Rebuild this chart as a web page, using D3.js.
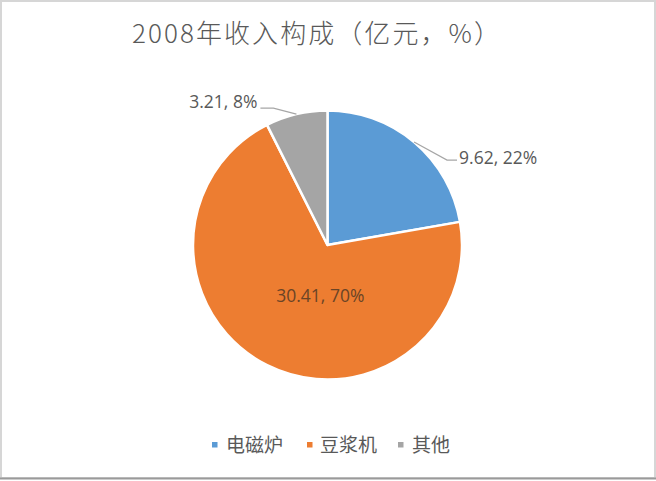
<!DOCTYPE html>
<html>
<head>
<meta charset="utf-8">
<script src="https://cdn.jsdelivr.net/npm/d3@7"></script>
<style>
  html, body { margin: 0; padding: 0; background: #ffffff; }
  svg { display: block; }
</style>
</head>
<body>
<svg id="chart" width="656" height="481"></svg>
<script>
const titleText = "2008年收入构成（亿元，%）";
const categories = ["电磁炉", "豆浆机", "其他"];
const values = [9.62, 30.41, 3.21];
const percentLabels = ["22%", "70%", "8%"];
const colors = ["#5B9BD5", "#ED7D31", "#A5A5A5"];

const W = 656, H = 481;
const svg = d3.select("#chart");

// frame
svg.append("rect").attr("x", 1).attr("y", 1).attr("width", W - 2).attr("height", H - 4)
  .attr("fill", "#ffffff").attr("stroke", "#d6d6d6").attr("stroke-width", 2);
svg.append("line").attr("x1", 0).attr("x2", W).attr("y1", 478.5).attr("y2", 478.5)
  .attr("stroke", "#9a9a9a").attr("stroke-width", 2);

// title
svg.append("text")
  .attr("x", 132).attr("y", 43)
  .attr("textLength", 368).attr("lengthAdjust", "spacing")
  .attr("font-family", "'Noto Sans CJK SC', 'Noto Sans', sans-serif")
  .attr("font-size", 26)
  .attr("font-weight", 300)
  .attr("fill", "#595959")
  .text(titleText);

const cx = 327.5, cy = 245, r = 134.5;
const g = svg.append("g").attr("transform", `translate(${cx},${cy})`);

const pie = d3.pie().sort(null).value(d => d).startAngle(0).endAngle(2 * Math.PI);
const arcs = pie(values);
const arc = d3.arc().innerRadius(0).outerRadius(r);

g.selectAll("path.slice").data(arcs).enter().append("path")
  .attr("class", "slice")
  .attr("d", arc)
  .attr("fill", (d, i) => colors[i])
  .attr("stroke", "#ffffff")
  .attr("stroke-width", 2.5)
  .attr("stroke-linejoin", "round");

const labelFont = "'Open Sans', 'Liberation Sans', sans-serif";
const labelSize = 17.5;
const fmt = (i) => `${values[i].toFixed(2)}, ${percentLabels[i]}`;

function edgePoint(d) {
  const a = (d.startAngle + d.endAngle) / 2;
  return [r * Math.sin(a), -r * Math.cos(a)];
}

// outside labels: blue (index 0) and gray (index 2)
const outside = [
  { i: 0, elbow: [33, 18], run: 10, anchor: "start", gap: 2, dy: 4 },
  { i: 2, elbow: [-23, -6], run: -13, anchor: "end", gap: -3, dy: 0 }
];
outside.forEach(o => {
  const d = arcs[o.i];
  const p0 = edgePoint(d);
  const p1 = [p0[0] + o.elbow[0], p0[1] + o.elbow[1]];
  const p2 = [p1[0] + o.run, p1[1]];
  g.append("polyline")
    .attr("points", [p0, p1, p2].map(p => p.join(",")).join(" "))
    .attr("fill", "none").attr("stroke", "#a6a6a6").attr("stroke-width", 1.2);
  g.append("text")
    .attr("x", p2[0] + o.gap).attr("y", p2[1] + o.dy)
    .attr("text-anchor", o.anchor)
    .attr("font-family", labelFont).attr("font-size", labelSize)
    .attr("fill", "#595959")
    .text(fmt(o.i));
});

// inside label for orange
{
  const d = arcs[1];
  const c = d3.arc().innerRadius(0).outerRadius(r * 0.8).centroid(d);
  g.append("text")
    .attr("x", c[0] + 17).attr("y", c[1] + 9)
    .attr("text-anchor", "middle")
    .attr("font-family", labelFont).attr("font-size", labelSize)
    .attr("fill", "#6a4426")
    .text(fmt(1));
}

// legend
const legendItems = [
  { sx: 212, tx: 226 },
  { sx: 307, tx: 320 },
  { sx: 398, tx: 412 }
];
const lg = svg.append("g");
categories.forEach((c, i) => {
  lg.append("rect").attr("x", legendItems[i].sx).attr("y", 442).attr("width", 5.5).attr("height", 5.5)
    .attr("fill", colors[i]);
  lg.append("text").attr("x", legendItems[i].tx).attr("y", 452)
    .attr("font-family", "'Noto Sans CJK SC', sans-serif")
    .attr("font-size", 19)
    .attr("fill", "#595959")
    .text(c);
});
</script>
</body>
</html>
